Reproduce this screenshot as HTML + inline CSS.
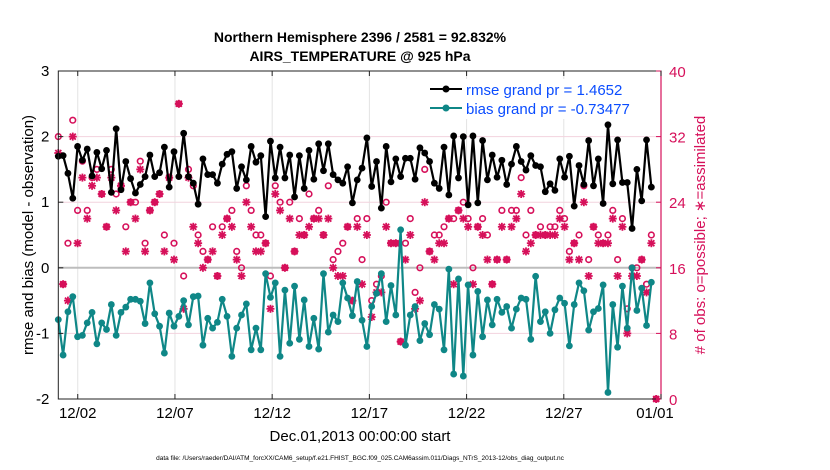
<!DOCTYPE html>
<html><head><meta charset="utf-8"><style>
body{margin:0;background:#fff;}
svg{display:block;font-family:"Liberation Sans",sans-serif;}
</style></head><body>
<svg id="chart" width="830" height="470" viewBox="0 0 830 470">
<rect width="830" height="470" fill="#fff"/>
<text x="360" y="42" text-anchor="middle" font-size="14" font-weight="bold">Northern Hemisphere 2396 / 2581 = 92.832%</text>
<text x="360" y="61" text-anchor="middle" font-size="14" font-weight="bold">AIRS_TEMPERATURE @ 925 hPa</text>
<g id="grid"></g><g id="marks"></g><g id="axes"></g>
<text transform="translate(33,235) rotate(-90)" text-anchor="middle" font-size="15">rmse and bias (model - observation)</text>
<text transform="translate(705,235) rotate(-90)" text-anchor="middle" font-size="15" fill="#d6105a"># of obs: o=possible; ∗=assimilated</text>
<text x="360" y="441" text-anchor="middle" font-size="15">Dec.01,2013 00:00:00 start</text>
<text x="360" y="460" text-anchor="middle" font-size="6.5">data file: /Users/raeder/DAI/ATM_forcXX/CAM6_setup/f.e21.FHIST_BGC.f09_025.CAM6assim.011/Diags_NTrS_2013-12/obs_diag_output.nc</text>
<g id="legend">
<rect x="425" y="79" width="172" height="40" fill="#fff"/>
<line x1="430" y1="89" x2="462" y2="89" stroke="#000" stroke-width="2"/><circle cx="446" cy="89" r="3.5" fill="#000"/>
<text x="466" y="95" font-size="15" fill="#0a4cff">rmse grand pr = 1.4652</text>
<line x1="430" y1="108" x2="462" y2="108" stroke="#0f8787" stroke-width="2"/><circle cx="446" cy="108" r="3.5" fill="#0f8787"/>
<text x="466" y="114" font-size="15" fill="#0a4cff">bias grand pr = -0.73477</text>
</g>
</svg>
<script>
const rmse=[1.70,1.71,1.44,1.06,1.85,1.64,1.81,1.40,1.76,1.51,1.79,1.15,2.12,1.19,1.62,1.36,1.14,1.27,1.39,1.72,1.39,1.45,1.84,1.23,1.77,1.39,2.05,1.39,1.29,0.97,1.66,1.42,1.42,
1.29,1.58,1.73,1.77,1.21,1.54,1.34,1.85,1.61,1.71,0.78,1.93,1.37,1.84,1.37,1.72,1.08,1.71,1.21,1.79,1.35,1.89,1.48,1.89,1.42,1.34,1.29,1.54,0.99,1.34,1.52,1.98,
1.24,1.62,0.91,1.85,1.31,1.66,1.39,1.67,1.67,1.35,1.83,1.75,1.62,1.29,1.21,1.84,1.11,2.01,1.37,2.00,0.96,2.01,0.99,1.94,1.34,1.72,1.38,1.64,1.27,1.58,1.85,1.62,
1.49,1.71,1.56,1.54,1.16,1.28,1.18,1.66,1.38,1.70,0.94,1.56,1.27,1.94,1.25,1.66,0.98,2.18,1.28,1.95,1.30,1.30,0.60,1.50,1.02,1.95,1.23,null];
const bias=[-0.79,-1.33,-0.67,-0.44,-1.05,-1.03,-0.84,-0.68,-1.16,-0.84,-0.94,-0.56,-1.03,-0.68,-0.60,-0.48,-0.48,-0.51,-0.85,-0.23,-0.70,-0.89,-1.30,-0.69,-0.89,-0.74,-0.50,-0.87,-0.44,-0.43,-1.18,-0.77,-0.92,
-0.83,-0.48,-0.74,-1.35,-0.92,-0.72,-0.55,-1.25,-0.92,-1.25,-0.09,-0.45,-0.23,-1.35,-0.34,-1.15,-0.28,-1.09,-0.49,-1.20,-0.77,-1.24,-0.09,-0.98,-0.72,-0.82,-0.23,-0.46,-0.73,-0.21,-0.80,-1.20,
-0.59,-0.39,-0.09,-0.82,-0.27,-0.72,0.58,-1.18,-0.72,-0.59,-1.11,-0.85,-1.02,-0.56,-0.63,-1.25,-0.02,-1.62,-0.17,-1.65,-0.26,-1.33,-0.36,-1.05,-0.49,-0.87,-0.48,-0.68,-0.59,-0.92,-0.63,-0.46,
-0.48,-1.09,-0.13,-0.82,-0.67,-1.00,-0.64,-0.46,-0.54,-1.19,-0.56,-0.23,-0.35,-0.95,-0.67,-0.62,-0.26,-1.90,-0.56,-1.21,-0.28,-0.92,0.00,-0.65,-0.31,-0.88,-0.22,null];
const possible=[32,14,19,34,23,29,23,27,28,25,21,28,25,26,21,24,24,29,19,23,24,25,20,27,19,36,15,28,26,20,18,17,21,
15,21,22,23,18,16,26,23,20,20,19,15,26,24,16,24,18,22,20,25,22,23,20,26,17,18,19,21,12,22,17,22,
12,14,15,24,19,19,7,19,22,13,16,28,18,20,20,21,22,22,23,24,22,16,21,22,20,14,17,23,17,23,23,27,
20,23,20,21,20,21,21,23,22,18,19,20,26,17,21,20,19,20,23,17,22,11,16,16,17,14,20,0];
const assimilated=[30,14,12,32,19,27,22,26,27,25,21,27,23,26,18,24,22,28,18,23,24,25,18,27,17,36,11,27,21,19,16,17,18,
15,20,22,21,17,15,24,21,18,18,19,11,25,23,16,22,18,20,20,21,22,22,20,22,16,15,15,21,12,21,14,20,
10,13,13,21,19,19,7,17,20,11,12,24,18,17,19,19,22,14,23,22,21,14,21,20,17,14,17,21,17,21,22,25,
18,19,20,20,20,20,20,22,21,17,19,17,24,15,21,19,19,19,22,15,21,8,15,15,17,13,19,0];
const yTicks=[-2,-1,0,1,2,3];
const rTicks=[0,8,16,24,32,40];
const xTickLabels=["12/02","12/07","12/12","12/17","12/22","12/27","01/01"];
const xTickDays=[1,6,11,16,21,26,31];

const NS="http://www.w3.org/2000/svg";
const L=58.3,R=661,T=71,B=399;
const xS=d=>L+d*(R-L)/31;
const yS=v=>B-(v+2)*(B-T)/5;
const rS=c=>B-c*(B-T)/40;
const dayOf=i=>i*0.25*0.992;
function mk(tag,attrs,parent){const e=document.createElementNS(NS,tag);for(const k in attrs)e.setAttribute(k,attrs[k]);parent.appendChild(e);return e;}
const grid=document.getElementById('grid'),marks=document.getElementById('marks'),axes=document.getElementById('axes');
xTickDays.forEach(d=>{const l=mk('line',{x1:xS(d),x2:xS(d),y1:T,y2:B,stroke:'#e3e3e3','stroke-width':1},grid);

});
rTicks.forEach(c=>{if(c===0||c===40||c===16)return;const l=mk('line',{x1:L,x2:R,y1:rS(c),y2:rS(c),stroke:'#f2d3de','stroke-width':1},grid);

});
const z=mk('line',{x1:L,x2:R,y1:yS(0),y2:yS(0),stroke:'#bdbdbd','stroke-width':2},grid);


const pink='#d6105a';
possible.forEach((c,i)=>{const e=mk('circle',{cx:xS(dayOf(i)),cy:rS(c),r:2.8,fill:'none',stroke:pink,'stroke-width':1.6},marks);

});
assimilated.forEach((c,i)=>{const x=xS(dayOf(i)),y=rS(c),s=4;
const g=mk('g',{stroke:pink,'stroke-width':1.8},marks);


mk('line',{x1:x-s,x2:x+s,y1:y,y2:y},g);mk('line',{x1:x,x2:x,y1:y-s,y2:y+s},g);
mk('line',{x1:x-3,x2:x+3,y1:y-3,y2:y+3},g);mk('line',{x1:x-3,x2:x+3,y1:y+3,y2:y-3},g);});
function series(arr,col,name){let d='';arr.forEach((v,i)=>{if(v===null)return;d+=(d?'L':'M')+xS(dayOf(i)).toFixed(1)+','+yS(v).toFixed(1);});
const p=mk('path',{d:d,fill:'none',stroke:col,'stroke-width':2.2,'stroke-linejoin':'round'},marks);


arr.forEach((v,i)=>{if(v===null)return;const c=mk('circle',{cx:xS(dayOf(i)),cy:yS(v),r:3.4,fill:col},marks);

});}
series(rmse,'#000','rmse');
series(bias,'#0f8787','bias');
const box=mk('path',{d:`M${L},${T}H${R}V${B}H${L}Z`,fill:'none',stroke:'#222','stroke-width':1},axes);


const rax=mk('line',{x1:R,x2:R,y1:T,y2:B,stroke:pink,'stroke-width':1.2},axes);


yTicks.forEach(v=>{const y=yS(v);mk('line',{x1:L,x2:L+5,y1:y,y2:y,stroke:'#222'},axes);
const t=mk('text',{x:L-9,y:y+5,'text-anchor':'end','font-size':15},axes);t.textContent=v;

});
rTicks.forEach(c=>{const y=rS(c);mk('line',{x1:R,x2:R-5,y1:y,y2:y,stroke:pink},axes);
const t=mk('text',{x:R+8,y:y+6,'font-size':15,fill:pink},axes);t.textContent=c;

});
xTickDays.forEach((d,k)=>{const x=xS(d);mk('line',{x1:x,x2:x,y1:B,y2:B-5,stroke:'#222'},axes);mk('line',{x1:x,x2:x,y1:T,y2:T+5,stroke:'#222'},axes);
const t=mk('text',{x:k===6?x-6:x,y:B+19,'text-anchor':'middle','font-size':15},axes);t.textContent=xTickLabels[k];

});
</script>
</body></html>
